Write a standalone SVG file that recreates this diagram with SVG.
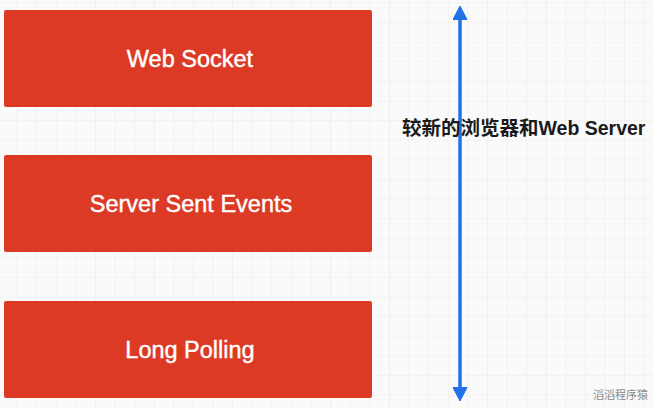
<svg xmlns="http://www.w3.org/2000/svg" width="653" height="408" viewBox="0 0 653 408">
  <style>
    .box { fill: #dc3a25; }
    .lbl { fill: #ffffff; stroke: #ffffff; stroke-width: 0.4; font-family: "Liberation Sans", Arial, sans-serif; font-size: 23.5px; text-anchor: middle; }
    .note { fill: #1a1a1a; font-family: "Liberation Sans", "Noto Sans CJK SC", sans-serif; font-size: 19.5px; font-weight: bold; }
    .wm { fill: #8a8a8a; font-family: "Noto Sans CJK SC", sans-serif; font-size: 11px; }
    .conn { stroke: #2172e6; stroke-width: 3.5; fill: none; }
  </style>
  <defs>
    <pattern id="grid" x="16.5" y="2.5" width="19.6" height="19.6" patternUnits="userSpaceOnUse">
      <path d="M0,0 H19.6 M0,0 V19.6" stroke="#ebebeb" stroke-width="1.2" fill="none"/>
    </pattern>
    <marker id="ah" viewBox="0 0 15 15" refX="1" refY="7.5" markerWidth="15" markerHeight="15" markerUnits="userSpaceOnUse" orient="auto-start-reverse">
      <path d="M0.5,0.5 L14,7.5 L0.5,14.5 Z" fill="#2172e6" stroke="#2172e6" stroke-width="1" stroke-linejoin="round"/>
    </marker>
  </defs>
  <rect width="653" height="408" fill="#fafafa"/>
  <rect width="653" height="408" fill="url(#grid)"/>

  <g id="connectors">
    <line class="conn" x1="460" y1="19" x2="460" y2="388" marker-start="url(#ah)" marker-end="url(#ah)"/>
  </g>

  <g id="websocket">
    <rect class="box" x="4" y="10" width="368" height="97" rx="2"/>
    <text class="lbl" x="190" y="67">Web Socket</text>
  </g>
  <g id="sse">
    <rect class="box" x="4" y="155" width="368" height="97" rx="2"/>
    <text class="lbl" x="191" y="212">Server Sent Events</text>
  </g>
  <g id="longpolling">
    <rect class="box" x="4" y="301" width="368" height="97" rx="2"/>
    <text class="lbl" x="190" y="358">Long Polling</text>
  </g>

  <g id="label">
    <text class="note" x="402" y="135">较新的浏览器和Web Server</text>
  </g>
  <text class="wm" x="593" y="399">滔滔程序猿</text>
</svg>
